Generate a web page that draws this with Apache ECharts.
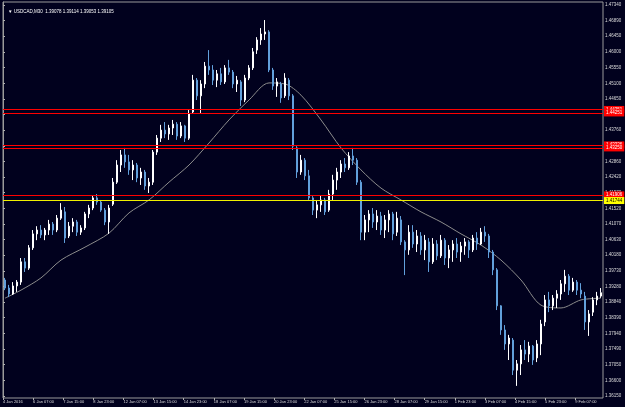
<!DOCTYPE html>
<html>
<head>
<meta charset="utf-8">
<script src="https://cdn.jsdelivr.net/npm/echarts@6/dist/echarts.min.js"></script>
<style>
  html, body { margin: 0; padding: 0; background: #01011e; }
  #chart { width: 625px; height: 407px; }
</style>
</head>
<body>
<div id="chart"></div>
<script>
// USDCAD M30, one candle here = ~8.5 bars of M30
const opens = [
  1.3947, 1.3924, 1.3907, 1.3930, 1.3941, 1.3999, 1.3981, 1.4039, 1.4079, 1.4090,
  1.4076, 1.4090, 1.4107, 1.4090, 1.4124, 1.4142, 1.4073, 1.4101, 1.4113, 1.4084,
  1.4096, 1.4136, 1.4153, 1.4182, 1.4170, 1.4147, 1.4113, 1.4164, 1.4227, 1.4276,
  1.4305, 1.4285, 1.4262, 1.4276, 1.4239, 1.4256, 1.4216, 1.4227, 1.4313, 1.4353,
  1.4376, 1.4365, 1.4382, 1.4393, 1.4359, 1.4388, 1.4353, 1.4428, 1.4519, 1.4474,
  1.4508, 1.4559, 1.4548, 1.4519, 1.4537, 1.4514, 1.4554, 1.4542, 1.4508, 1.4514,
  1.4462, 1.4525, 1.4554, 1.4605, 1.4634, 1.4651, 1.4657, 1.4548, 1.4502, 1.4508,
  1.4474, 1.4519, 1.4474, 1.4325, 1.4256, 1.4290, 1.4245, 1.4182, 1.4147, 1.4162,
  1.4176, 1.4147, 1.4193, 1.4233, 1.4256, 1.4279, 1.4268, 1.4302, 1.4290, 1.4227,
  1.4084, 1.4119, 1.4136, 1.4113, 1.4130, 1.4090, 1.4119, 1.4136, 1.4084, 1.4119,
  1.4056, 1.4033, 1.4084, 1.4050, 1.4073, 1.4033, 1.4056, 1.3999, 1.4050, 1.4016,
  1.4061, 1.4010, 1.4033, 1.4050, 1.4027, 1.4044, 1.4056, 1.4033, 1.4067, 1.4050,
  1.4084, 1.4073, 1.4027, 1.3976, 1.3873, 1.3804, 1.3764, 1.3775, 1.3689, 1.3707,
  1.3747, 1.3735, 1.3758, 1.3724, 1.3764, 1.3827, 1.3890, 1.3873, 1.3895, 1.3907,
  1.3936, 1.3958, 1.3918, 1.3941, 1.3918, 1.3901, 1.3827, 1.3855, 1.3890, 1.3901
];
const closes = [
  1.3924, 1.3907, 1.3930, 1.3941, 1.3999, 1.3981, 1.4039, 1.4079, 1.4090, 1.4076,
  1.4090, 1.4107, 1.4090, 1.4124, 1.4147, 1.4067, 1.4101, 1.4113, 1.4084, 1.4096,
  1.4136, 1.4153, 1.4182, 1.4170, 1.4147, 1.4113, 1.4153, 1.4227, 1.4276, 1.4305,
  1.4285, 1.4262, 1.4276, 1.4239, 1.4256, 1.4216, 1.4227, 1.4313, 1.4353, 1.4376,
  1.4365, 1.4382, 1.4393, 1.4359, 1.4388, 1.4353, 1.4422, 1.4519, 1.4474, 1.4508,
  1.4559, 1.4548, 1.4519, 1.4537, 1.4514, 1.4554, 1.4542, 1.4508, 1.4519, 1.4462,
  1.4525, 1.4554, 1.4600, 1.4634, 1.4651, 1.4657, 1.4548, 1.4502, 1.4514, 1.4468,
  1.4525, 1.4474, 1.4330, 1.4256, 1.4290, 1.4245, 1.4182, 1.4147, 1.4162, 1.4176,
  1.4142, 1.4193, 1.4233, 1.4256, 1.4279, 1.4268, 1.4302, 1.4290, 1.4227, 1.4084,
  1.4119, 1.4136, 1.4113, 1.4130, 1.4090, 1.4119, 1.4136, 1.4079, 1.4124, 1.4056,
  1.4033, 1.4084, 1.4050, 1.4073, 1.4033, 1.4061, 1.3999, 1.4050, 1.4016, 1.4061,
  1.4010, 1.4033, 1.4050, 1.4027, 1.4044, 1.4056, 1.4033, 1.4067, 1.4050, 1.4084,
  1.4073, 1.4027, 1.3976, 1.3873, 1.3804, 1.3764, 1.3781, 1.3689, 1.3707, 1.3747,
  1.3735, 1.3758, 1.3718, 1.3764, 1.3821, 1.3890, 1.3873, 1.3895, 1.3907, 1.3936,
  1.3958, 1.3918, 1.3941, 1.3918, 1.3907, 1.3827, 1.3850, 1.3890, 1.3901, 1.39105
];
const lows = [
  1.3918, 1.3898, 1.3904, 1.3913, 1.3933, 1.3970, 1.3976, 1.4033, 1.4061, 1.4067,
  1.4061, 1.4076, 1.4076, 1.4084, 1.4119, 1.4053, 1.4067, 1.4084, 1.4073, 1.4076,
  1.4090, 1.4124, 1.4147, 1.4162, 1.4142, 1.4104, 1.4079, 1.4159, 1.4222, 1.4256,
  1.4268, 1.4248, 1.4233, 1.4227, 1.4219, 1.4205, 1.4196, 1.4219, 1.4305, 1.4342,
  1.4353, 1.4348, 1.4362, 1.4348, 1.4353, 1.4342, 1.4348, 1.4422, 1.4462, 1.4425,
  1.4496, 1.4534, 1.4505, 1.4499, 1.4505, 1.4508, 1.4534, 1.4496, 1.4485, 1.4445,
  1.4456, 1.4519, 1.4548, 1.4594, 1.4620, 1.4634, 1.4542, 1.4491, 1.4471, 1.4454,
  1.4468, 1.4462, 1.4319, 1.4239, 1.4248, 1.4233, 1.4176, 1.4133, 1.4124, 1.4142,
  1.4133, 1.4142, 1.4176, 1.4205, 1.4239, 1.4256, 1.4262, 1.4276, 1.4219, 1.4061,
  1.4061, 1.4084, 1.4096, 1.4090, 1.4076, 1.4067, 1.4084, 1.4061, 1.4073, 1.4047,
  1.3961, 1.4019, 1.4039, 1.4027, 1.4019, 1.4004, 1.3970, 1.3993, 1.4004, 1.4010,
  1.3990, 1.3981, 1.3999, 1.4010, 1.3999, 1.4019, 1.4010, 1.4027, 1.4033, 1.4047,
  1.4056, 1.4010, 1.3961, 1.3861, 1.3790, 1.3747, 1.3718, 1.3675, 1.3644, 1.3675,
  1.3718, 1.3712, 1.3704, 1.3712, 1.3732, 1.3815, 1.3855, 1.3861, 1.3867, 1.3890,
  1.3913, 1.3904, 1.3913, 1.3904, 1.3895, 1.3804, 1.3787, 1.3844, 1.3875, 1.3896
];
const highs = [
  1.3953, 1.3933, 1.3941, 1.3947, 1.4010, 1.4010, 1.4047, 1.4090, 1.4101, 1.4104,
  1.4096, 1.4119, 1.4113, 1.4133, 1.4167, 1.4156, 1.4113, 1.4124, 1.4119, 1.4104,
  1.4142, 1.4162, 1.4190, 1.4193, 1.4176, 1.4153, 1.4162, 1.4239, 1.4290, 1.4319,
  1.4325, 1.4305, 1.4290, 1.4282, 1.4268, 1.4262, 1.4239, 1.4319, 1.4362, 1.4391,
  1.4399, 1.4391, 1.4405, 1.4399, 1.4399, 1.4391, 1.4434, 1.4534, 1.4525, 1.4519,
  1.4571, 1.4605, 1.4562, 1.4548, 1.4554, 1.4562, 1.4577, 1.4548, 1.4531, 1.4519,
  1.4534, 1.4562, 1.4611, 1.4642, 1.4668, 1.4691, 1.4662, 1.4554, 1.4525, 1.4514,
  1.4539, 1.4525, 1.4479, 1.4330, 1.4305, 1.4296, 1.4262, 1.4187, 1.4176, 1.4190,
  1.4182, 1.4205, 1.4248, 1.4268, 1.4290, 1.4296, 1.4313, 1.4325, 1.4296, 1.4233,
  1.4133, 1.4147, 1.4153, 1.4147, 1.4142, 1.4133, 1.4147, 1.4142, 1.4142, 1.4130,
  1.4061, 1.4104, 1.4104, 1.4090, 1.4084, 1.4076, 1.4067, 1.4067, 1.4061, 1.4076,
  1.4067, 1.4047, 1.4061, 1.4067, 1.4056, 1.4067, 1.4061, 1.4076, 1.4084, 1.4096,
  1.4101, 1.4079, 1.4033, 1.3981, 1.3875, 1.3818, 1.3790, 1.3781, 1.3718, 1.3761,
  1.3775, 1.3770, 1.3761, 1.3775, 1.3833, 1.3904, 1.3913, 1.3904, 1.3918, 1.3947,
  1.3976, 1.3964, 1.3953, 1.3947, 1.3938, 1.3913, 1.3861, 1.3898, 1.3913, 1.3924
];

// moving average (candle index, price)
const maIdx = [0, 4, 9, 14, 20, 26, 31, 36, 41, 46, 51, 56, 61, 66, 70, 74, 79, 84, 89, 94,
  99, 104, 109, 114, 119, 124, 129, 134, 139, 144, 149];
const maVals = [1.3895, 1.3918, 1.3953, 1.4004, 1.4041, 1.4081, 1.4139, 1.4176, 1.4227, 1.4276,
  1.4339, 1.4405, 1.4462, 1.4511, 1.4508, 1.4476, 1.4405, 1.4325, 1.4262, 1.4210,
  1.4176, 1.4142, 1.4113, 1.4079, 1.4047, 1.4004, 1.3947, 1.3875, 1.3867, 1.3890, 1.3895];

// time axis labels, one every 64 bars of M30
const timeLabels = ['4 Jan 2016', '6 Jan 07:00', '7 Jan 15:00', '8 Jan 23:00', '12 Jan 07:00',
  '13 Jan 15:00', '14 Jan 23:00', '18 Jan 07:00', '19 Jan 15:00', '20 Jan 23:00',
  '22 Jan 07:00', '25 Jan 15:00', '26 Jan 23:00', '28 Jan 07:00', '29 Jan 15:00',
  '1 Feb 23:00', '3 Feb 07:00', '4 Feb 15:00', '5 Feb 23:00', '9 Feb 07:00'];
const priceTicks = [1.47340, 1.46890, 1.46450, 1.46000, 1.45550, 1.45100, 1.44650, 1.44200,
  1.43760, 1.43310, 1.42860, 1.42420, 1.41970, 1.41520, 1.41070, 1.40630, 1.40180,
  1.39730, 1.39280, 1.38840, 1.38390, 1.37940, 1.37490, 1.37050, 1.36600, 1.36150];

// horizontal levels
const redLevels = [1.44351, 1.44251, 1.43336, 1.43250, 1.41906];
const yellowLevel = 1.41744;
const bidPrice = 1.39105;

const chart = echarts.init(document.getElementById('chart'));

let candles = opens.map((o, i) => [o, closes[i], lows[i], highs[i]]);
let cats = opens.map((o, i) => i);
let maData = maIdx.map((x, i) => [x, maVals[i]]);

// red ones use the markLine defaults, yellow and bid override them
let lineData = redLevels.map((v) => ({ yAxis: v }));
lineData.push({
  yAxis: yellowLevel,
  lineStyle: { color: '#f0f000' },
  label: { backgroundColor: '#ffff00', color: '#000000' }
});
lineData.push({
  yAxis: bidPrice,
  lineStyle: { opacity: 0 },
  label: { backgroundColor: '#ffffff', color: '#000000' }
});

const labelFont = 'Liberation Sans';

let option = {
  backgroundColor: '#01011e',
  animation: false,
  title: {
    text: '▼ USDCAD,M30  1.39078 1.39114 1.39053 1.39105',
    left: 3,
    top: 4,
    textStyle: { color: '#ffffff', fontSize: 4.5, fontWeight: 'normal', fontFamily: labelFont }
  },
  grid: { left: 3, right: 22, top: 2, bottom: 9, show: true, borderColor: '#9a9a9a', borderWidth: 1 },
  xAxis: [
    {
      type: 'category',
      data: cats,
      show: false,
      boundaryGap: true
    },
    {
      type: 'value',
      min: 0,
      max: 1275,
      interval: 64,
      position: 'bottom',
      axisLine: { show: false },
      axisTick: { show: true, length: 2, lineStyle: { color: '#b0b0b0' } },
      splitLine: { show: false },
      axisLabel: {
        align: 'left',
        margin: 2,
        fontSize: 4,
        fontFamily: labelFont,
        color: '#dcdcdc',
        showMinLabel: true,
        showMaxLabel: false,
        formatter: (v) => timeLabels[Math.round(v / 64)] || ''
      }
    }
  ],
  yAxis: {
    type: 'value',
    position: 'right',
    min: 1.36093,
    max: 1.47426,
    scale: true,
    axisLine: { show: true, lineStyle: { color: '#9a9a9a' } },
    axisTick: { show: true, length: 2, customValues: priceTicks, lineStyle: { color: '#b0b0b0' } },
    splitLine: { show: false },
    axisLabel: {
      customValues: priceTicks,
      margin: 2,
      fontSize: 4.5,
      fontFamily: labelFont,
      color: '#dcdcdc',
      formatter: (v) => v.toFixed(5)
    }
  },
  series: [
    {
      name: 'MA',
      type: 'line',
      xAxisIndex: 0,
      data: maData,
      symbol: 'none',
      smooth: 0.3,
      z: 1,
      lineStyle: { color: '#8c8c8c', width: 1 }
    },
    {
      name: 'USDCAD',
      type: 'candlestick',
      xAxisIndex: 0,
      data: candles,
      barWidth: 2,
      z: 2,
      itemStyle: {
        color: '#ffffff',
        color0: '#62a0dc',
        borderColor: '#ffffff',
        borderColor0: '#62a0dc',
        borderWidth: 1
      },
      markLine: {
        silent: true,
        symbol: ['none', 'none'],
        precision: 5,
        lineStyle: { type: 'solid', width: 1, color: '#ff0000' },
        label: {
          position: 'end',
          distance: 1,
          fontSize: 4.5,
          fontFamily: labelFont,
          padding: [1, 2],
          color: '#ffffff',
          backgroundColor: '#ff0000',
          formatter: (p) => p.value.toFixed(5)
        },
        data: lineData
      }
    }
  ]
};

chart.setOption(option);
</script>
</body>
</html>
